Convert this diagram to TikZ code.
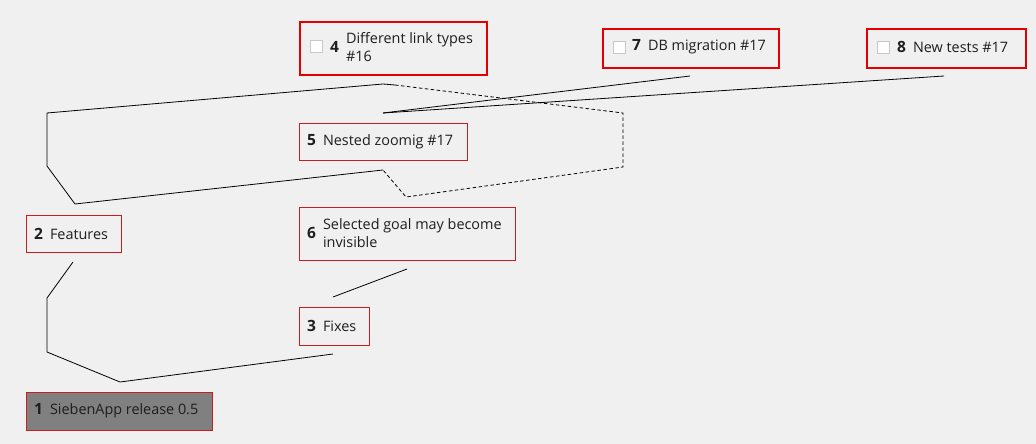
\documentclass[tikz,border=0pt]{standalone}
\usepackage{fontspec}
\setmainfont{Open Sans}
\definecolor{bg}{RGB}{240,240,240}
\definecolor{thinred}{RGB}{200,30,30}
\definecolor{thickred}{RGB}{228,0,0}
\definecolor{txt}{RGB}{30,30,30}
\definecolor{rootfill}{RGB}{128,128,128}
\definecolor{cbline}{RGB}{200,200,200}
\tikzset{
  goalthin/.style={draw=thinred, line width=1pt, anchor=north west, inner sep=0pt},
  goalthick/.style={draw=thickred, line width=2pt, anchor=north west, inner sep=0pt},
  goaltext/.style={anchor=west, inner sep=0pt, text=txt, font=\fontsize{14.4}{17}\selectfont, align=left},
  cbox/.style={draw=cbline, fill=white, line width=0.8pt, minimum width=12pt, minimum height=12pt, inner sep=0pt, anchor=west},
  edge/.style={line width=0.8pt, black},
  dedge/.style={line width=0.8pt, black, dash pattern=on 3.5pt off 2.5pt},
}
\newcommand{\num}[1]{{\fontsize{15.5}{17}\selectfont\bfseries #1}\hspace{7pt}}
\begin{document}
\begin{tikzpicture}[x=1pt,y=-1pt]
\useasboundingbox[fill=bg] (0,0) rectangle (1036,444);

% boxes
\node[goalthick, minimum width=187pt, minimum height=53pt] (b4) at (299,21) {};
\node[goalthick, minimum width=176pt, minimum height=39pt] (b7) at (602,28) {};
\node[goalthick, minimum width=159pt, minimum height=39pt] (b8) at (866,28) {};
\node[goalthin, minimum width=168pt, minimum height=37pt] (b5) at (298.5,123) {};
\node[goalthin, minimum width=95pt, minimum height=37pt] (b2) at (25.5,215) {};
\node[goalthin, minimum width=216pt, minimum height=53pt] (b6) at (298.5,207) {};
\node[goalthin, minimum width=70pt, minimum height=38pt] (b3) at (298.5,307) {};
\node[goalthin, fill=rootfill, minimum width=186pt, minimum height=38pt] (b1) at (25.5,392) {};

% checkboxes
\node[cbox] (c4) at (310,46) {};
\node[cbox] (c7) at (613,47) {};
\node[cbox] (c8) at (877,47) {};

% texts
\node[goaltext] (t4) at (330,49) {\num{4}\begin{tabular}{@{}l@{}}Different link types\\[1pt]\#16\end{tabular}};
\node[goaltext] (t7) at (632,47) {\num{7}DB migration \#17};
\node[goaltext] (t8) at (897,47) {\num{8}New tests \#17};
\node[goaltext] (t5) at (307,142) {\num{5}Nested zoomig \#17};
\node[goaltext] (t2) at (34,234) {\num{2}Features};
\node[goaltext] (t6) at (307,235) {\num{6}\begin{tabular}{@{}l@{}}Selected goal may become\\[1pt]invisible\end{tabular}};
\node[goaltext] (t3) at (307,326) {\num{3}Fixes};
\node[goaltext] (t1) at (34,411) {\num{1}SiebenApp release 0.5};

% edge end points
\coordinate (e2top) at (75,204);
\coordinate (e5a) at (383,170);
\coordinate (e5b) at (395,85);
\coordinate (e5c) at (383,113);
\coordinate (e7) at (690,76);
\coordinate (e8) at (944,76);
\coordinate (e6) at (407,269);
\coordinate (e3top) at (333,297);
\coordinate (e3bot) at (333,354);
\coordinate (e2bot) at (73,262);

% edges
\draw[edge] (e2top) -- (47,166) -- (47,113) -- (383,84) -- (e5b);
\draw[dedge] (e5b) -- (623,113) -- (623,167) -- (406,197) -- (e5a);
\draw[edge] (e5a) -- (e2top);
\draw[edge] (e5c) -- (e7);
\draw[edge] (e5c) -- (e8);
\draw[edge] (e3top) -- (e6);
\draw[edge] (e3bot) -- (120,382) -- (47,352) -- (47,298) -- (e2bot);
\end{tikzpicture}
\end{document}
